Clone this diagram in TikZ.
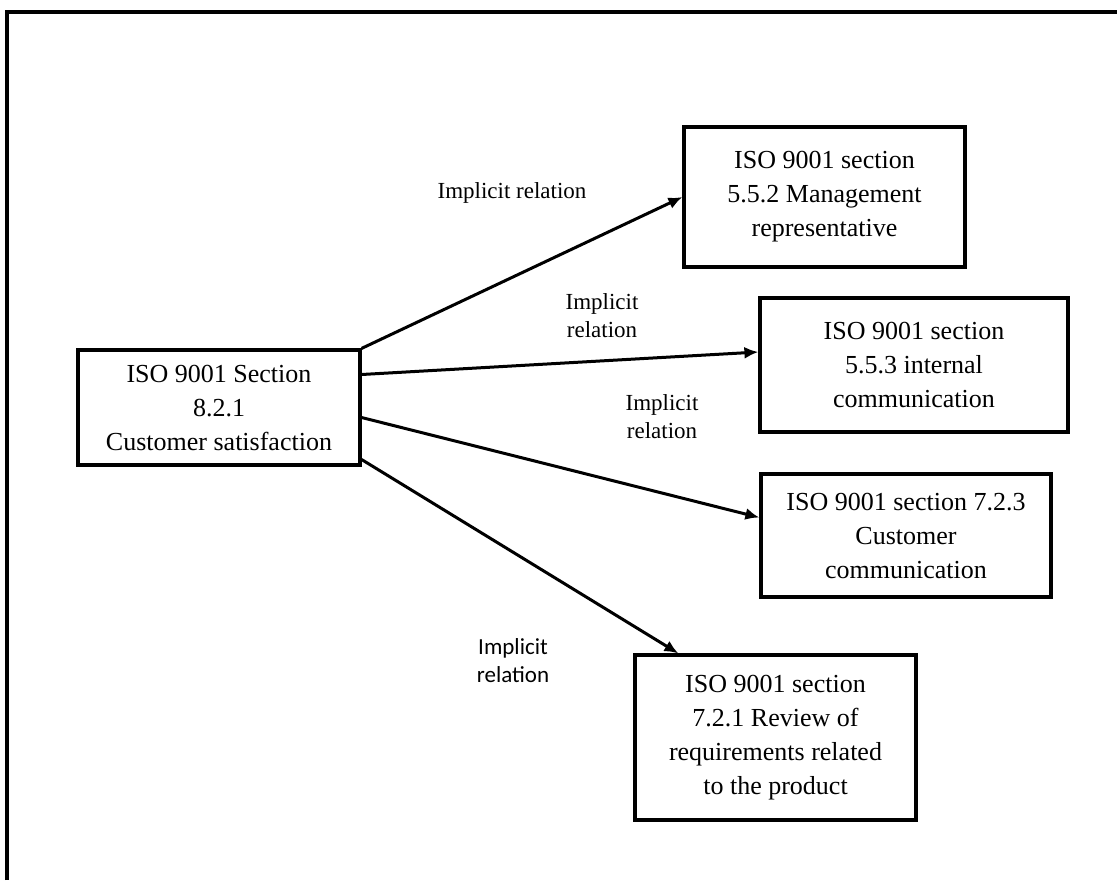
\documentclass[tikz,border=0pt]{standalone}
\usepackage{fontspec}
\setmainfont{Liberation Serif}
\newfontfamily\labelsans{Carlito}
\usepackage{tikz}
\usetikzlibrary{positioning,arrows.meta}

\begin{document}
\begin{tikzpicture}[x=0.5pt, y=-0.5pt,
  isobox/.style={draw, line width=1.6pt, align=center, inner sep=0pt,
    font=\fontsize{13}{17}\selectfont},
  rellabel/.style={align=center, font=\fontsize{11.5}{14}\selectfont},
  relarrow/.style={line width=1.5pt, -{Latex[length=7pt,width=6pt]}}]
  \useasboundingbox (0,0) rectangle (1117,880);

  % outer frame (top and left edge only)
  \draw[line width=2pt] (7,880) -- (7,12) -- (1117,12);

  % source box
  \node[isobox, minimum width=141pt, minimum height=57.5pt] (src) at (219,407.5)
    {ISO 9001 Section\\8.2.1\\Customer satisfaction};

  % related sections
  \node[isobox, minimum width=140.5pt, minimum height=70pt] (mgmt) at (824.5,197)
    {ISO 9001 section\\5.5.2 Management\\representative};
  \node[isobox, minimum width=154pt, minimum height=67pt] (intcom) at (914,365)
    {ISO 9001 section\\5.5.3 internal\\communication};
  \node[isobox, minimum width=145pt, minimum height=61.5pt] (custcom) at (906,535.5)
    {ISO 9001 section 7.2.3\\Customer\\communication};
  \node[isobox, minimum width=140.5pt, minimum height=82.5pt] (review) at (775.5,737.5)
    {ISO 9001 section\\7.2.1 Review of\\requirements related\\to the product};

  % relations
  \draw[relarrow] (src.north east) -- (mgmt.west);
  \draw[relarrow] ([yshift=16.5pt]src.east) -- ([yshift=6.5pt]intcom.west);
  \draw[relarrow] ([yshift=-5pt]src.east) -- ([yshift=9pt]custcom.west);
  \draw[relarrow] ([yshift=-26pt]src.east) -- ([xshift=22.5pt]review.north west);

  \node[rellabel] (rel1) at (512,193) {Implicit relation};
  \node[rellabel] (rel2) at (602,316) {Implicit\\relation};
  \node[rellabel] (rel3) at (662,417) {Implicit\\relation};
  \node[rellabel, font=\labelsans\fontsize{11.5}{14}\selectfont] (rel4) at (513,661) {Implicit\\relation};
\end{tikzpicture}
\end{document}
